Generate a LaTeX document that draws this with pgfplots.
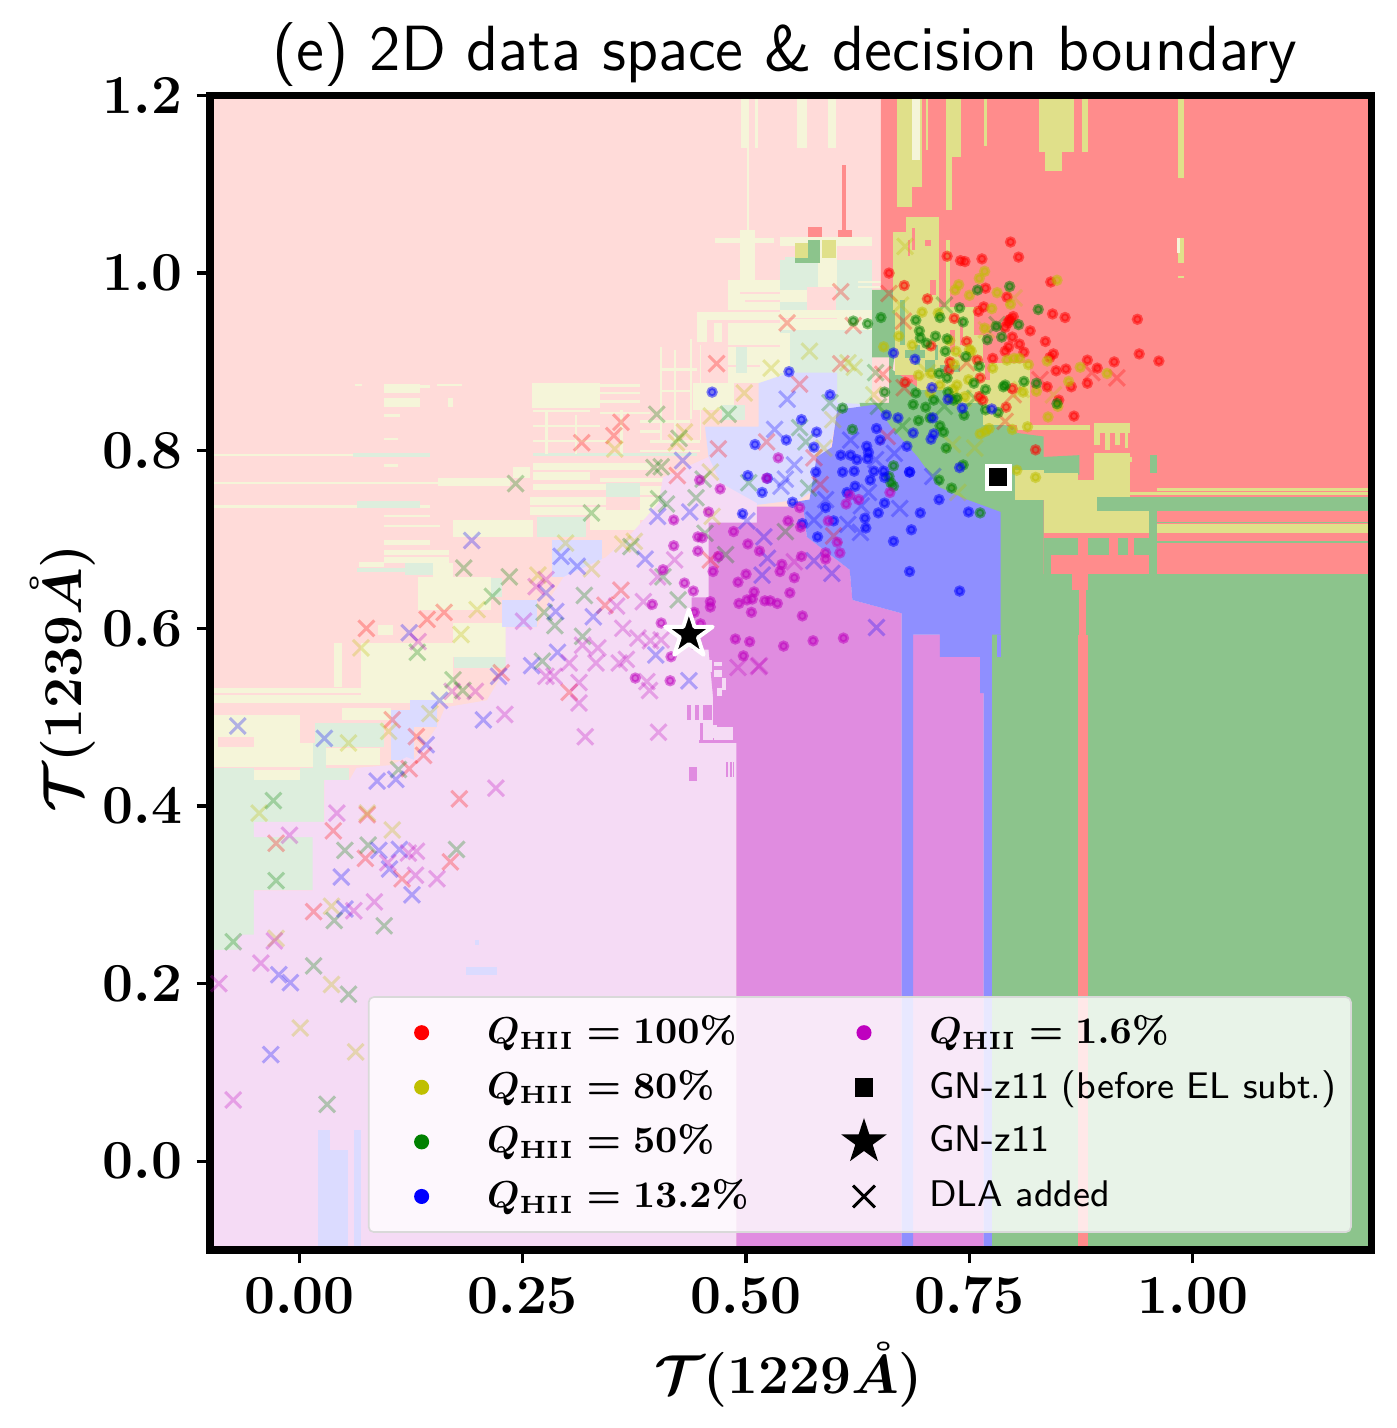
\RequirePackage{fix-cm}
\documentclass[border=0pt]{standalone}
\usepackage{pgfplots}
\pgfplotsset{compat=1.18}

\definecolor{cr}{HTML}{FF8C8C}
\definecolor{co}{HTML}{E0E08A}
\definecolor{cg}{HTML}{8CC48C}
\definecolor{cb}{HTML}{8F8FFF}
\definecolor{cm}{HTML}{E08CE0}
\definecolor{pp}{HTML}{FFDBD9}
\definecolor{po}{HTML}{F5F5D9}
\definecolor{pg}{HTML}{DDEEDD}
\definecolor{pb}{HTML}{DBDBFF}
\definecolor{pm}{HTML}{F5DBF5}
\definecolor{molive}{rgb}{0.75,0.75,0}
\definecolor{mgreen}{rgb}{0,0.5,0}
\definecolor{mmag}{rgb}{0.75,0,0.75}

% filled five-pointed star
\pgfdeclareplotmark{fivestar}{%
  \pgfpathmoveto{\pgfqpointpolar{90}{\pgfplotmarksize}}%
  \pgfpathlineto{\pgfqpointpolar{126}{0.382\pgfplotmarksize}}%
  \pgfpathlineto{\pgfqpointpolar{162}{\pgfplotmarksize}}%
  \pgfpathlineto{\pgfqpointpolar{198}{0.382\pgfplotmarksize}}%
  \pgfpathlineto{\pgfqpointpolar{234}{\pgfplotmarksize}}%
  \pgfpathlineto{\pgfqpointpolar{270}{0.382\pgfplotmarksize}}%
  \pgfpathlineto{\pgfqpointpolar{306}{\pgfplotmarksize}}%
  \pgfpathlineto{\pgfqpointpolar{342}{0.382\pgfplotmarksize}}%
  \pgfpathlineto{\pgfqpointpolar{18}{\pgfplotmarksize}}%
  \pgfpathlineto{\pgfqpointpolar{54}{0.382\pgfplotmarksize}}%
  \pgfpathclose\pgfusepathqfillstroke}

% one decision-boundary cell: colour, x0, y0, x1, y1
\newcommand{\R}[5]{\addplot[draw=none,fill=#1,forget plot] coordinates {(#2,#3)(#4,#3)(#4,#5)(#2,#5)} -- cycle;}

\pgfplotsset{
  dot/.style={only marks,mark=*,mark size=0.95pt,forget plot,#1,
    mark options={line width=0.8pt,draw opacity=0.5,fill opacity=0.5}},
  dla/.style={only marks,mark=x,mark size=2.7pt,forget plot,#1,
    mark options={line width=0.72pt,draw opacity=0.28}},
  legmark/.style={only marks,#1,mark options={fill opacity=1,draw opacity=1,line width=0.7pt},
    legend image code/.code={\path[draw=none,fill=none] (-11.2pt,-1pt) rectangle (5pt,1pt); \draw[##1] plot coordinates {(0,0)};}},
}

\begin{document}
\begin{tikzpicture}
\useasboundingbox (-50.4pt,-42.72pt) rectangle (284.64pt,300pt);
\begin{axis}[
  scale only axis, width=278.76pt, height=277.08pt,
  xmin=-0.1, xmax=1.2, ymin=-0.1, ymax=1.2,
  axis on top,
  axis background/.style={fill=pp},
  axis line style={line width=1.7pt},
  xtick={0,0.25,0.5,0.75,1}, ytick={0,0.2,0.4,0.6,0.8,1,1.2},
  xtick pos=bottom, ytick pos=left, tick align=outside,
  major tick length=3.2pt, tick style={line width=0.8pt,black},
  tick label style={font=\fontsize{13.2}{16}\selectfont\boldmath},
  x tick label style={/pgf/number format/.cd,fixed,fixed zerofill,precision=2},
  y tick label style={/pgf/number format/.cd,fixed,fixed zerofill,precision=1},
  xlabel={$\mathcal{T}(1229\mathring{A})$},
  ylabel={$\mathcal{T}(1239\mathring{A})$},
  label style={font=\fontsize{13.15}{16}\selectfont\boldmath},
  xlabel style={at={(axis description cs:0.498,-0.108)},anchor=center},
  ylabel style={at={(axis description cs:-0.127,0.495)},anchor=center},
  title={(e) 2D data space \& decision boundary},
  title style={font=\sffamily\fontsize{15.33}{18}\selectfont,at={(axis description cs:0.495,1.0134)},anchor=center},
  legend columns=2,
  legend cell align=left,
  legend style={at={(0.983,0.0148)},anchor=south east,
    fill=white,fill opacity=0.8,draw=black!15,draw opacity=1,text opacity=1,
    line width=0.4pt,rounded corners=1.2pt,inner xsep=1.5pt,
    font=\fontsize{9}{11}\selectfont\boldmath,
    /tikz/column 1/.style={column sep=8.7pt},
    /tikz/column 2/.style={column sep=14.5pt},
    /tikz/column 3/.style={column sep=8.7pt},
    nodes={minimum height=13.1pt,inner ysep=0pt}},
]

% pale cells, lower left
\R{pg}{-0.1}{0.429}{0.028}{0.382}
\R{pg}{-0.1}{0.382}{-0.051}{0.365}
\R{pg}{-0.1}{0.365}{0.015}{0.305}
\R{pg}{-0.1}{0.305}{-0.051}{0.255}
\R{pg}{-0.1}{0.255}{-0.069}{0.238}
\R{pg}{-0.1}{0.443}{-0.051}{0.429}
\R{po}{-0.051}{0.441}{0.001}{0.429}
\R{pg}{0.001}{0.443}{0.056}{0.429}
\R{po}{-0.1}{0.502}{0.001}{0.444}
\R{pp}{-0.091}{0.478}{-0.051}{0.466}
\R{po}{0.001}{0.471}{0.015}{0.444}
\R{pg}{0.015}{0.471}{0.030}{0.429}
\R{pg}{0.018}{0.493}{0.095}{0.466}
\R{po}{0.030}{0.465}{0.090}{0.446}
\R{po}{0.048}{0.510}{0.103}{0.497}
\R{po}{-0.1}{0.533}{0.172}{0.516}
\R{pp}{-0.1}{0.527}{0.069}{0.525}
\R{po}{0.069}{0.583}{0.172}{0.531}
\R{po}{0.088}{0.604}{0.105}{0.593}
\R{po}{0.039}{0.583}{0.048}{0.534}
\R{po}{0.172}{0.606}{0.231}{0.568}
\R{pg}{0.173}{0.568}{0.231}{0.555}
\R{po}{0.133}{0.658}{0.214}{0.621}
\R{pg}{0.214}{0.657}{0.227}{0.635}
\R{pb}{0.227}{0.632}{0.266}{0.601}
\R{po}{0.150}{0.674}{0.172}{0.658}
\R{pg}{0.118}{0.674}{0.150}{0.660}
\R{pg}{0.064}{0.668}{0.120}{0.663}
\R{po}{0.067}{0.675}{0.095}{0.669}
\R{po}{0.095}{0.688}{0.167}{0.674}
\R{pp}{0.095}{0.683}{0.167}{0.680}
\R{po}{0.095}{0.700}{0.146}{0.694}
\R{pb}{0.103}{0.508}{0.128}{0.452}
\R{pb}{0.124}{0.519}{0.154}{0.489}
\R{pb}{0.283}{0.700}{0.339}{0.658}
\R{pg}{0.266}{0.725}{0.321}{0.703}
\R{po}{0.172}{0.722}{0.261}{0.703}

% pale cells, middle band
\R{po}{-0.1}{0.796}{0.060}{0.794}
\R{pg}{0.060}{0.797}{0.146}{0.793}
\R{pg}{0.261}{0.797}{0.445}{0.794}
\R{po}{-0.1}{0.765}{0.213}{0.763}
\R{po}{0.155}{0.769}{0.236}{0.760}
\R{po}{0.095}{0.785}{0.110}{0.782}
\R{po}{0.239}{0.782}{0.258}{0.769}
\R{po}{0.261}{0.786}{0.325}{0.767}
\R{pp}{0.261}{0.778}{0.325}{0.776}
\R{po}{0.325}{0.786}{0.392}{0.778}
\R{po}{0.261}{0.763}{0.348}{0.756}
\R{po}{0.336}{0.769}{0.437}{0.765}
\R{pg}{0.343}{0.764}{0.381}{0.748}
\R{po}{0.381}{0.760}{0.409}{0.750}
\R{po}{0.258}{0.748}{0.343}{0.728}
\R{pp}{0.258}{0.739}{0.343}{0.737}
\R{po}{0.381}{0.748}{0.409}{0.722}
\R{po}{0.325}{0.733}{0.381}{0.711}
\R{po}{0.409}{0.748}{0.448}{0.731}
\R{po}{-0.1}{0.739}{0.146}{0.736}
\R{pg}{0.064}{0.743}{0.135}{0.736}
\R{po}{0.095}{0.728}{0.146}{0.725}
\R{po}{0.095}{0.716}{0.157}{0.714}

% pale cells, upper band
\R{po}{0.260}{0.876}{0.336}{0.848}
\R{po}{0.336}{0.875}{0.381}{0.872}
\R{po}{0.336}{0.866}{0.381}{0.864}
\R{po}{0.336}{0.857}{0.381}{0.854}
\R{po}{0.095}{0.875}{0.135}{0.865}
\R{po}{0.095}{0.859}{0.135}{0.849}
\R{po}{0.135}{0.874}{0.146}{0.871}
\R{po}{0.154}{0.875}{0.182}{0.873}
\R{po}{0.166}{0.859}{0.172}{0.849}
\R{po}{0.062}{0.875}{0.070}{0.873}
\R{po}{0.095}{0.841}{0.113}{0.838}
\R{po}{0.095}{0.814}{0.110}{0.812}
\R{po}{0.261}{0.846}{0.325}{0.844}
\R{po}{0.336}{0.844}{0.392}{0.841}
\R{po}{0.381}{0.835}{0.437}{0.831}
\R{po}{0.392}{0.812}{0.448}{0.809}
\R{po}{0.381}{0.823}{0.404}{0.820}
\R{po}{0.261}{0.829}{0.336}{0.827}
\R{po}{0.261}{0.812}{0.348}{0.810}
\R{po}{0.381}{0.801}{0.448}{0.799}
\R{po}{0.275}{0.846}{0.278}{0.796}
\R{po}{0.308}{0.840}{0.311}{0.796}
\R{po}{0.359}{0.846}{0.362}{0.796}
\R{po}{0.404}{0.917}{0.406}{0.812}
\R{po}{0.419}{0.913}{0.422}{0.812}
\R{po}{0.437}{0.926}{0.439}{0.836}
\R{po}{0.448}{0.919}{0.450}{0.812}
\R{po}{0.441}{0.876}{0.487}{0.846}
\R{pg}{0.473}{0.852}{0.499}{0.835}
\R{po}{0.404}{0.893}{0.445}{0.890}
\R{po}{0.404}{0.868}{0.437}{0.866}
\R{po}{0.445}{0.956}{0.560}{0.947}
\R{po}{0.445}{0.947}{0.456}{0.922}
\R{po}{0.464}{0.944}{0.473}{0.922}
\R{po}{0.480}{0.944}{0.560}{0.876}
\R{pp}{0.480}{0.919}{0.542}{0.917}
\R{pp}{0.480}{0.897}{0.516}{0.894}
\R{pg}{0.542}{0.932}{0.560}{0.894}
\R{pg}{0.489}{0.917}{0.501}{0.888}
\R{po}{0.480}{0.992}{0.544}{0.959}
\R{pp}{0.493}{0.979}{0.544}{0.977}
\R{pp}{0.499}{0.970}{0.544}{0.968}
\R{po}{0.493}{1.049}{0.510}{0.989}
\R{po}{0.465}{1.040}{0.531}{1.034}
\R{pg}{0.544}{1.018}{0.560}{0.984}
\R{po}{0.494}{1.2}{0.503}{1.141}
\R{po}{0.510}{1.2}{0.513}{1.141}
\R{po}{0.557}{1.2}{0.568}{1.141}
\R{po}{0.592}{1.2}{0.601}{1.141}
\R{po}{0.501}{1.141}{0.503}{1.043}
\R{pg}{0.538}{1.015}{0.641}{0.885}
\R{pg}{0.602}{0.885}{0.641}{0.852}
\R{po}{0.538}{1.041}{0.641}{1.030}
\R{po}{0.580}{1.030}{0.602}{0.981}
\R{po}{0.538}{0.981}{0.580}{0.967}
\R{pp}{0.568}{0.984}{0.601}{0.959}
\R{po}{0.538}{0.959}{0.641}{0.936}
\R{pp}{0.538}{0.950}{0.602}{0.948}
\R{po}{0.538}{0.932}{0.549}{0.888}
\R{po}{0.625}{0.991}{0.667}{0.989}
\R{po}{0.625}{0.986}{0.667}{0.983}

% pale blue body
\addplot[draw=none,fill=pb,forget plot] coordinates {(0.454,0.827)(0.514,0.827)(0.514,0.876)(0.549,0.888)(0.602,0.888)(0.602,0.854)(0.641,0.852)(0.627,0.840)(0.601,0.835)(0.594,0.804)(0.576,0.756)(0.560,0.745)(0.512,0.739)(0.471,0.764)(0.458,0.793)} -- cycle;

% pale magenta body
\addplot[draw=none,fill=pm,forget plot] coordinates {(-0.1,-0.1)(-0.1,0.238)(-0.069,0.238)(-0.069,0.255)(-0.051,0.255)(-0.051,0.305)(0.015,0.305)(0.015,0.365)(-0.051,0.365)(-0.051,0.382)(0.028,0.382)(0.028,0.429)(0.056,0.429)(0.064,0.443)(0.103,0.446)(0.120,0.455)(0.128,0.452)(0.154,0.489)(0.163,0.511)(0.210,0.519)(0.231,0.555)(0.231,0.601)(0.266,0.601)(0.283,0.638)(0.296,0.658)(0.343,0.680)(0.372,0.707)(0.402,0.741)(0.407,0.770)(0.458,0.793)(0.471,0.764)(0.512,0.741)(0.512,0.600)(0.489,0.400)(0.489,-0.1)} -- cycle;
\R{pb}{0.021}{0.035}{0.034}{-0.1}
\R{pb}{0.034}{0.013}{0.054}{-0.1}
\R{pb}{0.061}{0.035}{0.069}{-0.1}
\R{pb}{0.186}{0.219}{0.221}{0.210}
\R{pb}{0.197}{0.249}{0.201}{0.243}

% magenta
\addplot[draw=none,fill=cm,forget plot] coordinates {(0.489,-0.1)(0.489,0.471)(0.463,0.471)(0.463,0.523)(0.458,0.576)(0.439,0.576)(0.439,0.635)(0.458,0.635)(0.458,0.719)(0.512,0.719)(0.512,0.737)(0.564,0.737)(0.568,0.703)(0.616,0.666)(0.619,0.632)(0.674,0.617)(0.674,-0.1)} -- cycle;
\addplot[draw=none,fill=cm,forget plot] coordinates {(0.687,-0.1)(0.687,0.593)(0.717,0.593)(0.717,0.568)(0.762,0.568)(0.762,0.527)(0.766,0.527)(0.766,-0.1)} -- cycle;
\R{cm}{0.436}{0.444}{0.445}{0.428}
\R{cm}{0.477}{0.450}{0.480}{0.433}
\R{cm}{0.482}{0.450}{0.484}{0.433}
\R{cm}{0.485}{0.450}{0.487}{0.433}
\R{pm}{0.453}{0.564}{0.462}{0.551}
\R{pm}{0.464}{0.562}{0.473}{0.558}
\R{pm}{0.464}{0.553}{0.473}{0.545}
\R{pm}{0.467}{0.533}{0.473}{0.524}
\R{pm}{0.453}{0.491}{0.467}{0.477}
\R{pm}{0.473}{0.544}{0.477}{0.531}
\R{pm}{0.464}{0.489}{0.485}{0.474}
\R{cm}{0.434}{0.514}{0.438}{0.497}
\R{cm}{0.443}{0.514}{0.447}{0.497}
\R{cm}{0.452}{0.514}{0.462}{0.497}
\R{cm}{0.447}{0.474}{0.489}{0.471}
\R{cm}{0.448}{0.493}{0.452}{0.473}

% red, green, blue
\addplot[draw=none,fill=cr,forget plot] coordinates {(0.651,1.2)(1.2,1.2)(1.2,0.661)(0.667,0.661)(0.667,0.913)(0.651,0.913)} -- cycle;
\addplot[draw=none,fill=cg,forget plot] coordinates {(0.641,0.981)(0.667,0.981)(0.667,0.913)(0.664,0.891)(0.691,0.872)(0.743,0.868)(0.743,0.854)(0.773,0.854)(0.776,0.831)(0.799,0.827)(0.803,0.820)(0.833,0.816)(0.833,0.793)(0.873,0.795)(0.873,0.773)(0.833,0.773)(0.833,0.661)(0.775,0.661)(0.672,0.661)(0.627,0.854)(0.660,0.854)(0.660,0.905)(0.641,0.905)} -- cycle;
\R{cg}{0.775}{0.661}{1.2}{-0.1}
\addplot[draw=none,fill=cb,forget plot] coordinates {(0.602,0.846)(0.645,0.852)(0.662,0.827)(0.692,0.793)(0.716,0.759)(0.747,0.745)(0.785,0.731)(0.785,0.593)(0.775,0.593)(0.775,-0.1)(0.766,-0.1)(0.766,0.527)(0.762,0.527)(0.762,0.568)(0.717,0.568)(0.717,0.593)(0.687,0.593)(0.687,-0.1)(0.674,-0.1)(0.674,0.617)(0.619,0.632)(0.616,0.666)(0.568,0.703)(0.564,0.737)(0.546,0.741)(0.571,0.745)(0.579,0.793)(0.596,0.804)} -- cycle;
\R{cb}{0.781}{0.593}{0.785}{0.568}

% olive cells
\R{co}{0.669}{1.2}{0.697}{1.097}
\R{co}{0.669}{1.097}{0.686}{1.074}
\R{co}{0.701}{1.2}{0.704}{1.139}
\R{co}{0.724}{1.2}{0.741}{1.131}
\R{co}{0.724}{1.131}{0.730}{1.071}
\R{co}{0.766}{1.2}{0.770}{1.143}
\R{co}{0.828}{1.2}{0.867}{1.136}
\R{co}{0.835}{1.136}{0.854}{1.115}
\R{co}{0.876}{1.2}{0.883}{1.136}
\R{co}{0.983}{1.2}{0.990}{1.107}
\R{co}{0.983}{1.040}{0.990}{1.011}
\R{co}{0.983}{0.997}{0.990}{0.995}
\R{po}{0.686}{1.2}{0.695}{1.127}
\R{po}{0.982}{1.040}{0.986}{1.023}
\R{co}{0.664}{1.046}{0.716}{0.959}
\R{co}{0.679}{1.063}{0.716}{1.046}
\R{co}{0.724}{1.037}{0.728}{0.962}
\R{co}{0.667}{0.962}{0.765}{0.885}
\R{co}{0.765}{0.899}{0.818}{0.829}
\R{co}{0.728}{0.885}{0.765}{0.854}
\R{co}{0.691}{0.885}{0.728}{0.868}
\R{co}{0.803}{0.829}{0.885}{0.823}
\R{co}{0.801}{0.778}{0.833}{0.745}
\R{co}{0.833}{0.742}{0.951}{0.707}
\R{co}{0.833}{0.775}{0.871}{0.742}
\R{co}{0.889}{0.797}{0.930}{0.742}
\R{co}{0.871}{0.767}{0.889}{0.742}
\R{co}{0.915}{0.793}{0.932}{0.787}
\R{co}{0.889}{0.831}{0.930}{0.820}
\R{co}{0.889}{0.820}{0.896}{0.807}
\R{co}{0.902}{0.820}{0.907}{0.801}
\R{co}{0.913}{0.820}{0.918}{0.807}
\R{co}{0.924}{0.820}{0.927}{0.803}
\R{co}{0.960}{0.758}{1.2}{0.755}
\R{co}{0.896}{0.753}{1.2}{0.750}
\R{co}{0.960}{0.717}{1.2}{0.707}
\R{co}{0.555}{1.034}{0.569}{1.017}
\R{co}{0.585}{1.037}{0.601}{1.017}

% green cells
\R{cg}{0.893}{0.748}{1.2}{0.732}
\R{cg}{0.960}{0.720}{1.2}{0.719}
\R{cg}{0.960}{0.698}{1.2}{0.696}
\R{cg}{0.951}{0.739}{0.960}{0.661}
\R{cg}{0.952}{0.795}{0.960}{0.775}
\R{cg}{0.833}{0.702}{0.871}{0.683}
\R{cg}{0.883}{0.702}{0.906}{0.683}
\R{cg}{0.916}{0.702}{0.927}{0.683}
\R{cg}{0.934}{0.702}{0.952}{0.683}
\R{cg}{0.833}{0.683}{0.841}{0.661}
\R{cg}{0.672}{0.970}{0.678}{0.919}
\R{cg}{0.678}{0.913}{0.700}{0.904}
\R{cg}{0.700}{0.902}{0.711}{0.889}
\R{cg}{0.717}{0.897}{0.739}{0.889}
\R{cg}{0.689}{0.919}{0.695}{0.897}
\R{cg}{0.711}{0.919}{0.715}{0.902}
\R{cg}{0.569}{1.037}{0.583}{1.011}
\R{cg}{0.555}{1.017}{0.569}{1.011}

% red cells
\R{cr}{0.865}{0.661}{0.883}{0.643}
\R{cr}{0.873}{0.643}{0.880}{0.593}
\R{cr}{0.871}{0.593}{0.883}{-0.1}
\R{cr}{0.686}{1.051}{0.689}{1.026}
\R{cr}{0.681}{1.037}{0.684}{1.019}
\R{cr}{0.700}{1.037}{0.707}{1.031}
\R{cr}{0.706}{0.992}{0.713}{0.975}
\R{cr}{0.739}{0.947}{0.743}{0.919}
\R{cr}{0.755}{0.959}{0.765}{0.930}
\R{cr}{0.728}{0.936}{0.734}{0.911}
\R{cr}{0.767}{0.899}{0.773}{0.880}
\R{cr}{0.569}{1.052}{0.585}{1.041}
\R{cr}{0.607}{1.122}{0.612}{1.041}
\R{cr}{0.603}{1.049}{0.619}{1.041}

% DLA added
\addplot[dla=red] coordinates {(0.546,0.944)(0.606,0.979)(0.620,0.941)(0.676,0.946)(0.560,0.875)(0.606,0.898)(0.653,0.886)(0.915,0.882)(0.887,0.888)(0.829,0.880)(0.677,0.871)(0.576,0.792)(0.658,0.816)(0.583,0.762)(0.598,0.704)(0.790,0.833)(0.799,0.863)(0.660,0.977)(0.747,0.899)
(0.467,0.898)(0.360,0.832)(0.352,0.817)(0.316,0.809)(0.469,0.802)(0.523,0.810)(0.423,0.772)
(0.075,0.600)(0.143,0.610)(0.162,0.618)(0.360,0.643)(0.302,0.528)(0.131,0.478)(0.139,0.457)(0.123,0.442)(0.179,0.408)(0.076,0.390)(0.038,0.372)(0.074,0.341)(0.169,0.337)(0.115,0.318)(0.016,0.281)(-0.026,0.358)(0.104,0.497)(0.226,0.550)(0.460,0.677)(0.342,0.626)};
\addplot[dla=molive] coordinates {(0.678,1.030)(0.673,0.964)(0.571,0.912)(0.621,0.894)(0.614,0.899)(0.643,0.863)(0.597,0.835)(0.587,0.803)(0.800,0.972)(0.844,0.863)(0.808,0.869)(0.756,0.803)(0.737,0.753)(0.769,0.936)(0.731,0.807)(0.743,0.859)(0.703,0.888)
(0.528,0.893)(0.498,0.865)(0.461,0.839)(0.353,0.802)(0.431,0.821)(0.460,0.776)(0.422,0.809)
(0.069,0.578)(0.181,0.593)(0.199,0.621)(0.146,0.504)(0.100,0.484)(0.055,0.471)(-0.045,0.392)(0.076,0.392)(0.104,0.373)(0.036,0.287)(-0.026,0.251)(0.036,0.199)(0.327,0.667)(0.298,0.696)(0.362,0.695)(0.375,0.698)(0.267,0.660)(0.462,0.726)(0.001,0.150)(0.063,0.123)};
\addplot[dla=mgreen] coordinates {(0.722,0.964)(0.781,0.942)(0.645,0.888)(0.594,0.854)(0.560,0.826)(0.567,0.810)(0.648,0.850)(0.570,0.758)(0.756,0.859)(0.722,0.850)(0.544,0.709)(0.675,0.828)
(0.400,0.841)(0.480,0.841)(0.425,0.814)(0.397,0.781)(0.405,0.782)(0.242,0.763)(0.503,0.764)(0.452,0.768)(0.402,0.746)(0.411,0.740)(0.444,0.747)(0.327,0.730)
(0.132,0.573)(0.216,0.636)(0.184,0.668)(0.235,0.658)(0.172,0.542)(0.183,0.530)(0.111,0.441)(-0.029,0.406)(0.051,0.350)(0.077,0.356)(0.176,0.351)(0.039,0.271)(0.095,0.265)(0.016,0.220)(0.055,0.188)(-0.074,0.247)(-0.026,0.316)(0.319,0.637)(0.274,0.618)(0.424,0.632)(0.317,0.591)(0.272,0.563)(0.371,0.692)(0.407,0.658)(0.454,0.707)(0.477,0.683)(0.286,0.603)(0.031,0.064)};
\addplot[dla=blue] coordinates {(0.546,0.858)(0.617,0.812)(0.666,0.797)(0.554,0.784)(0.637,0.753)(0.589,0.745)(0.629,0.738)(0.672,0.735)(0.709,0.771)(0.614,0.717)(0.628,0.708)(0.576,0.676)(0.596,0.662)(0.576,0.722)(0.544,0.768)(0.645,0.790)(0.646,0.601)
(0.532,0.824)(0.429,0.789)(0.539,0.760)(0.437,0.731)(0.401,0.726)(0.501,0.721)
(-0.069,0.490)(0.028,0.476)(0.142,0.469)(0.087,0.428)(0.108,0.430)(0.047,0.320)(0.126,0.300)(0.089,0.350)(0.112,0.351)(0.101,0.329)(0.051,0.284)(-0.023,0.210)(-0.010,0.201)(0.123,0.595)(0.206,0.497)(0.157,0.519)(0.223,0.546)(0.260,0.558)(0.287,0.619)(0.276,0.640)(0.329,0.613)(0.289,0.573)(0.399,0.570)(0.436,0.541)(0.293,0.681)(0.311,0.670)(0.387,0.678)(0.193,0.699)(0.518,0.660)(0.524,0.679)(0.520,0.703)(-0.032,0.120)};
\addplot[dla=mmag] coordinates {(-0.090,0.200)(-0.043,0.223)(-0.028,0.248)(0.084,0.292)(0.061,0.282)(0.130,0.322)(0.154,0.318)(-0.011,0.367)(0.042,0.392)(0.131,0.349)(0.122,0.347)(0.099,0.336)(0.220,0.420)(0.230,0.503)(0.197,0.529)(0.171,0.529)(0.251,0.608)(0.355,0.625)(0.385,0.630)(0.362,0.600)(0.379,0.589)(0.393,0.586)(0.405,0.587)(0.334,0.578)(0.317,0.581)(0.302,0.561)(0.332,0.561)(0.358,0.561)(0.366,0.565)(0.276,0.546)(0.285,0.546)(0.313,0.539)(0.313,0.516)(0.320,0.478)(0.402,0.483)(0.389,0.540)(0.392,0.530)(0.515,0.558)(0.133,0.585)(0.265,0.647)(0.276,0.655)(0.420,0.677)(0.401,0.658)(0.554,0.675)(-0.074,0.069)(0.514,0.557)(0.491,0.556)};

% samples
\addplot[dot=red] coordinates {(0.796,1.035)(0.805,1.018)(0.764,1.016)(0.745,1.013)(0.740,1.014)(0.725,1.019)(0.660,1.000)(0.677,0.986)(0.703,0.971)(0.768,0.983)(0.792,0.973)(0.841,0.990)(0.843,0.954)(0.857,0.950)(0.938,0.948)(0.766,0.962)(0.760,0.957)(0.733,0.949)(0.799,0.951)(0.795,0.947)(0.796,0.948)(0.793,0.944)(0.790,0.939)(0.818,0.935)(0.798,0.928)(0.747,0.923)(0.835,0.923)(0.806,0.920)(0.794,0.917)(0.790,0.912)(0.811,0.911)(0.707,0.918)(0.844,0.909)(0.840,0.905)(0.776,0.904)(0.759,0.902)(0.728,0.900)(0.727,0.891)(0.762,0.882)(0.882,0.902)(0.940,0.909)(0.962,0.901)(0.912,0.900)(0.893,0.893)(0.858,0.892)(0.847,0.890)(0.678,0.877)(0.837,0.872)(0.864,0.872)(0.882,0.876)(0.798,0.870)(0.761,0.861)(0.765,0.857)(0.850,0.857)(0.791,0.849)(0.867,0.839)(0.824,0.801)};
\addplot[dot=molive] coordinates {(0.767,1.002)(0.761,0.994)(0.738,0.987)(0.734,0.981)(0.750,0.975)(0.781,0.978)(0.796,0.965)(0.775,0.960)(0.848,0.992)(0.697,0.956)(0.715,0.955)(0.671,0.929)(0.654,0.917)(0.686,0.919)(0.728,0.924)(0.767,0.938)(0.735,0.912)(0.752,0.912)(0.776,0.893)(0.792,0.902)(0.800,0.904)(0.806,0.904)(0.816,0.897)(0.837,0.901)(0.874,0.894)(0.904,0.887)(0.861,0.878)(0.733,0.897)(0.707,0.887)(0.693,0.885)(0.749,0.880)(0.736,0.874)(0.717,0.874)(0.706,0.865)(0.745,0.861)(0.732,0.869)(0.810,0.866)(0.825,0.867)(0.849,0.850)(0.838,0.838)(0.815,0.827)(0.798,0.824)(0.762,0.819)(0.768,0.822)(0.772,0.825)(0.803,0.778)(0.824,0.770)(0.728,0.859)(0.750,0.914)};
\addplot[dot=mgreen] coordinates {(0.620,0.946)(0.636,0.943)(0.651,0.950)(0.690,0.947)(0.717,0.950)(0.739,0.961)(0.743,0.945)(0.759,0.981)(0.795,0.985)(0.827,0.959)(0.805,0.942)(0.780,0.940)(0.694,0.935)(0.695,0.927)(0.702,0.921)(0.712,0.929)(0.725,0.926)(0.723,0.912)(0.746,0.906)(0.770,0.925)(0.786,0.928)(0.761,0.895)(0.716,0.887)(0.725,0.882)(0.655,0.866)(0.690,0.865)(0.710,0.857)(0.687,0.852)(0.701,0.849)(0.726,0.866)(0.732,0.857)(0.736,0.859)(0.755,0.876)(0.768,0.869)(0.811,0.878)(0.825,0.876)(0.790,0.874)(0.788,0.872)(0.848,0.853)(0.744,0.840)(0.768,0.846)(0.782,0.843)(0.717,0.828)(0.721,0.821)(0.693,0.834)(0.706,0.837)(0.619,0.824)(0.724,0.803)(0.665,0.783)(0.743,0.784)(0.660,0.771)(0.662,0.764)(0.665,0.760)(0.716,0.767)(0.730,0.758)(0.762,0.730)(0.608,0.848)};
\addplot[dot=blue] coordinates {(0.562,0.835)(0.579,0.821)(0.510,0.807)(0.545,0.812)(0.576,0.804)(0.646,0.825)(0.657,0.840)(0.670,0.837)(0.709,0.837)(0.742,0.848)(0.775,0.847)(0.650,0.812)(0.687,0.820)(0.710,0.819)(0.707,0.813)(0.680,0.805)(0.635,0.805)(0.637,0.798)(0.636,0.791)(0.624,0.790)(0.606,0.795)(0.617,0.795)(0.608,0.776)(0.621,0.777)(0.578,0.776)(0.643,0.777)(0.654,0.777)(0.655,0.770)(0.639,0.767)(0.683,0.776)(0.683,0.776)(0.739,0.781)(0.502,0.772)(0.524,0.769)(0.518,0.753)(0.622,0.760)(0.613,0.753)(0.716,0.745)(0.552,0.742)(0.589,0.736)(0.655,0.741)(0.648,0.730)(0.695,0.730)(0.749,0.731)(0.496,0.729)(0.633,0.724)(0.598,0.721)(0.563,0.718)(0.634,0.713)(0.685,0.711)(0.580,0.703)(0.665,0.698)(0.683,0.664)(0.739,0.642)(0.665,0.910)(0.689,0.903)(0.708,0.871)(0.726,0.858)(0.462,0.866)(0.548,0.889)(0.594,0.863)};
\addplot[dot=mmag] coordinates {(0.536,0.792)(0.448,0.767)(0.471,0.757)(0.523,0.769)(0.458,0.731)(0.419,0.722)(0.560,0.736)(0.547,0.721)(0.592,0.721)(0.561,0.714)(0.486,0.709)(0.446,0.703)(0.451,0.702)(0.419,0.693)(0.502,0.695)(0.515,0.687)(0.446,0.687)(0.469,0.681)(0.562,0.681)(0.602,0.697)(0.589,0.685)(0.589,0.678)(0.605,0.685)(0.540,0.672)(0.538,0.664)(0.463,0.664)(0.407,0.666)(0.500,0.661)(0.491,0.652)(0.431,0.651)(0.554,0.657)(0.441,0.642)(0.509,0.641)(0.549,0.640)(0.507,0.633)(0.501,0.632)(0.492,0.628)(0.521,0.631)(0.527,0.631)(0.535,0.628)(0.460,0.630)(0.460,0.624)(0.395,0.627)(0.506,0.618)(0.563,0.614)(0.442,0.618)(0.405,0.606)(0.449,0.605)(0.488,0.588)(0.504,0.585)(0.542,0.580)(0.575,0.586)(0.609,0.589)(0.497,0.569)(0.416,0.568)(0.415,0.541)(0.661,0.753)(0.626,0.745)(0.616,0.750)(0.612,0.740)(0.376,0.544)};

% GN-z11
\addplot[only marks,mark=square*,mark size=2.7pt,forget plot,mark options={draw=white,fill=black,line width=1.08pt}] coordinates {(0.782,0.770)};
\addplot[only marks,mark=fivestar,mark size=6pt,forget plot,mark options={draw=white,fill=black,line width=0.95pt,line join=round}] coordinates {(0.436,0.593)};

% legend, filled row by row
\addlegendimage{legmark=red,mark=*,mark size=1.45pt}
\addlegendentry{$Q_{\rm HII}=100\%$}
\addlegendimage{legmark=mmag,mark=*,mark size=1.45pt}
\addlegendentry{$Q_{\rm HII}=1.6\%$}
\addlegendimage{legmark=molive,mark=*,mark size=1.45pt}
\addlegendentry{$Q_{\rm HII}=80\%$}
\addlegendimage{legmark=black,mark=square*,mark size=1.9pt}
\addlegendentry{\fontsize{8.9}{11}\selectfont\sffamily\mdseries GN-z11 (before EL subt.)}
\addlegendimage{legmark=mgreen,mark=*,mark size=1.45pt}
\addlegendentry{$Q_{\rm HII}=50\%$}
\addlegendimage{legmark=black,mark=fivestar,mark size=4.6pt}
\addlegendentry{\fontsize{8.9}{11}\selectfont\sffamily\mdseries GN-z11}
\addlegendimage{legmark=blue,mark=*,mark size=1.45pt}
\addlegendentry{$Q_{\rm HII}=13.2\%$}
\addlegendimage{legmark=black,mark=x,mark size=3.7pt}
\addlegendentry{\fontsize{8.9}{11}\selectfont\sffamily\mdseries DLA added}
\end{axis}
\end{tikzpicture}
\end{document}
